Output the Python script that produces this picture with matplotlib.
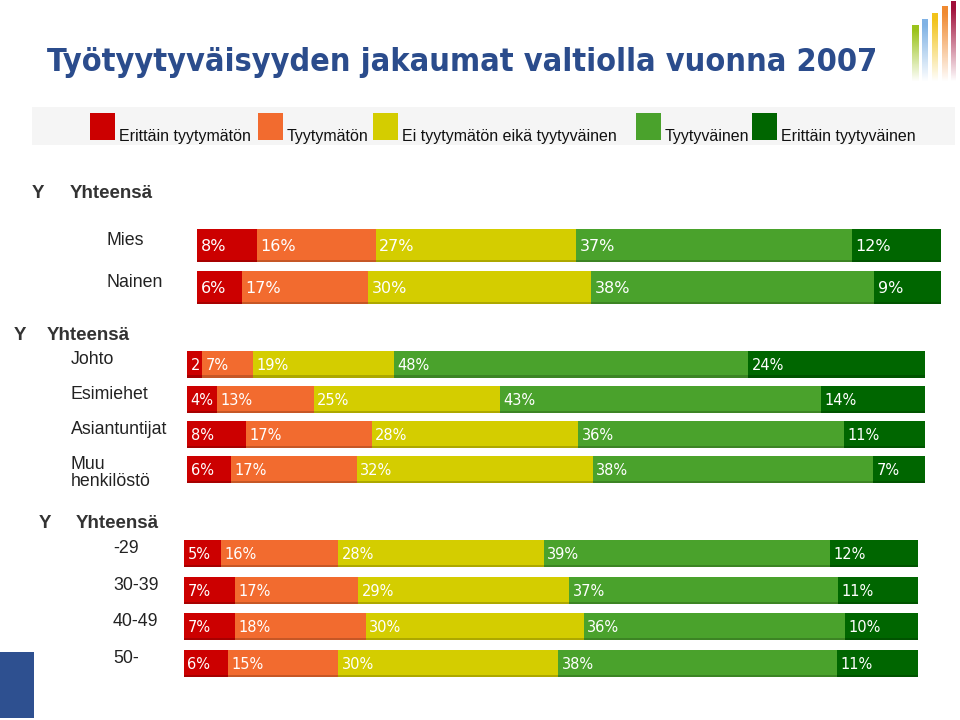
import numpy as np
import matplotlib
matplotlib.use("Agg")
import matplotlib.pyplot as plt
from matplotlib.transforms import offset_copy
from matplotlib.patches import Rectangle
from matplotlib import font_manager

# ---------------- data ----------------
series_names = ["Erittäin tyytymätön", "Tyytymätön", "Ei tyytymätön eikä tyytyväinen",
                "Tyytyväinen", "Erittäin tyytyväinen"]
series_colors = ["#CC0000", "#F26B2F", "#D4CD00", "#4AA22C", "#006600"]

title_text = "Työtyytyväisyyden jakaumat valtiolla vuonna 2007"
group1_labels = ["Mies", "Nainen"]
group2_labels = ["Johto", "Esimiehet", "Asiantuntijat", "Muu\nhenkilöstö"]
group3_labels = ["-29", "30-39", "40-49", "50-"]

erittain_tyytymaton = [8, 6, 2, 4, 8, 6, 5, 7, 7, 6]
tyytymaton = [16, 17, 7, 13, 17, 17, 16, 17, 18, 15]
ei_kumpikaan = [27, 30, 19, 25, 28, 32, 28, 29, 30, 30]
tyytyvainen = [37, 38, 48, 43, 36, 38, 39, 37, 36, 38]
erittain_tyytyvainen = [12, 9, 24, 14, 11, 7, 12, 11, 10, 11]

W, H = 960, 720
fig = plt.figure(figsize=(9.6, 7.2), dpi=100)
fig.patch.set_facecolor("white")

# overlay axes in pixel coordinates for decoration & text
ov = fig.add_axes([0, 0, 1, 1])
ov.set_xlim(0, W)
ov.set_ylim(H, 0)
ov.axis("off")

# pick a condensed/narrow bold font if one is installed
title_font = None
for f in font_manager.fontManager.ttflist:
    nm = f.name.lower()
    if ("narrow" in nm or "condensed" in nm or f.stretch in ("condensed", "semi-condensed")) \
            and f.weight in ("bold", 700):
        title_font = f.fname
        break
if title_font is None:
    for f in font_manager.fontManager.ttflist:
        if ("narrow" in f.name.lower() or "condensed" in f.name.lower()
                or str(f.stretch) in ("condensed", "semi-condensed")):
            title_font = f.fname
            break
if title_font is not None:
    tprops = font_manager.FontProperties(fname=title_font, weight="bold")
else:
    tprops = font_manager.FontProperties(family="Liberation Sans", weight="bold")

# title, fitted to the reference width (47 .. 877 px)
tsize = 32
title = ov.text(47, 71, title_text, fontproperties=tprops, fontsize=tsize,
                color="#2B4C8C", ha="left", va="baseline")
fig.canvas.draw()
bb = title.get_window_extent()
title.set_fontsize(tsize * 830.0 / bb.width)

# logo bars (decoration)
logo = [(912, 919, 25, "#9BC31C"), (922, 928, 19, "#7FB2E5"), (932, 938, 13, "#F2C31A"),
        (942, 948, 6, "#F08A30"), (951, 956, 1, "#A0103A")]
for x0, x1, top, col in logo:
    rgb = matplotlib.colors.to_rgb(col)
    n = 60
    arr = np.zeros((n, 1, 4))
    arr[:, 0, :3] = rgb
    alpha = np.clip(1.1 - np.linspace(0, 1, n) * 1.1, 0, 1)
    arr[:, 0, 3] = alpha
    ov.imshow(arr, extent=(x0, x1, 82, top), origin="upper", aspect="auto",
              interpolation="bilinear")

# legend band
ov.add_patch(Rectangle((32, 107), 923, 38, facecolor="#F5F5F5", edgecolor="none"))
leg_x = [90, 258, 373, 636, 752]
for lx, name, col in zip(leg_x, series_names, series_colors):
    ov.add_patch(Rectangle((lx, 113), 25, 27, facecolor=col, edgecolor="none"))
    ov.text(lx + 29, 141, name, family=["Liberation Sans Narrow", "Liberation Sans"],
            fontsize=11.5, color="#111111", ha="left", va="baseline")

# blue block bottom-left
ov.add_patch(Rectangle((0, 652), 34, 66, facecolor="#2E5090", edgecolor="none"))

ov.set_xlim(0, W)
ov.set_ylim(H, 0)

# ---------------- bar groups ----------------
groups = [
    dict(rows=slice(0, 2), labels=group1_labels, x0=197, x1=941, top=224.5, bottom=308.5,
         hfrac=0.79, fs=11.5, hdr=(32, 70, 194), lab_x=106, lab_dy=-5),
    dict(rows=slice(2, 6), labels=group2_labels, x0=187, x1=925, top=346.5, bottom=487,
         hfrac=0.77, fs=10.5, hdr=(14, 47, 336), lab_x=71, lab_dy=-5),
    dict(rows=slice(6, 10), labels=group3_labels, x0=184, x1=918, top=535, bottom=682,
         hfrac=0.74, fs=10.5, hdr=(39, 76, 524), lab_x=113, lab_dy=-5),
]

all_series = [erittain_tyytymaton, tyytymaton, ei_kumpikaan, tyytyvainen, erittain_tyytyvainen]

for g in groups:
    vals = np.array([s[g["rows"]] for s in all_series], dtype=float)  # (5, n)
    n = vals.shape[1]
    totals = vals.sum(axis=0)
    ax = fig.add_axes([g["x0"] / W, 1 - g["bottom"] / H,
                       (g["x1"] - g["x0"]) / W, (g["bottom"] - g["top"]) / H])
    ax.set_facecolor("none")
    ax.set_xlim(0, 100)
    ax.set_ylim(n - 0.5, -0.5)
    ax.axis("off")
    y = np.arange(n)
    left = np.zeros(n)
    tr = offset_copy(ax.transData, fig=fig, x=3.5, y=-1, units="dots")
    for k in range(5):
        w = vals[k] / totals * 100
        ax.barh(y, w, left=left, height=g["hfrac"], color=series_colors[k],
                edgecolor="none")
        # subtle darker bottom edge
        ax.barh(y + g["hfrac"] / 2 - 0.03, w, left=left, height=0.06,
                color="black", alpha=0.18, edgecolor="none")
        for i in range(n):
            v = int(vals[k, i])
            txt = f"{v}%" if v >= 3 else f"{v}"
            ax.text(left[i], y[i], txt, transform=tr, color="white",
                    fontsize=g["fs"], ha="left", va="center", family="DejaVu Sans")
        left = left + w

    # header and row labels in pixel overlay
    hx1, hx2, hy = g["hdr"]
    ov.text(hx1, hy, "Y", fontsize=13.5, fontweight="bold", color="#333333",
            family="Liberation Sans", va="center", ha="left")
    ov.text(hx2, hy, "Yhteensä", fontsize=13.5, fontweight="bold", color="#333333",
            family="Liberation Sans", va="center", ha="left")
    pix_rows = g["top"] + (np.arange(n) + 0.5) * (g["bottom"] - g["top"]) / n
    for lab, py in zip(g["labels"], pix_rows):
        if "\n" in lab:
            ov.text(g["lab_x"], py - 13, lab, fontsize=12.8, color="#222222",
                    family="Liberation Sans", va="top", ha="left", linespacing=1.0)
        else:
            ov.text(g["lab_x"], py + g["lab_dy"], lab, fontsize=12.8, color="#222222",
                    family="Liberation Sans", va="center", ha="left")

fig.savefig("out.png", dpi=100)
